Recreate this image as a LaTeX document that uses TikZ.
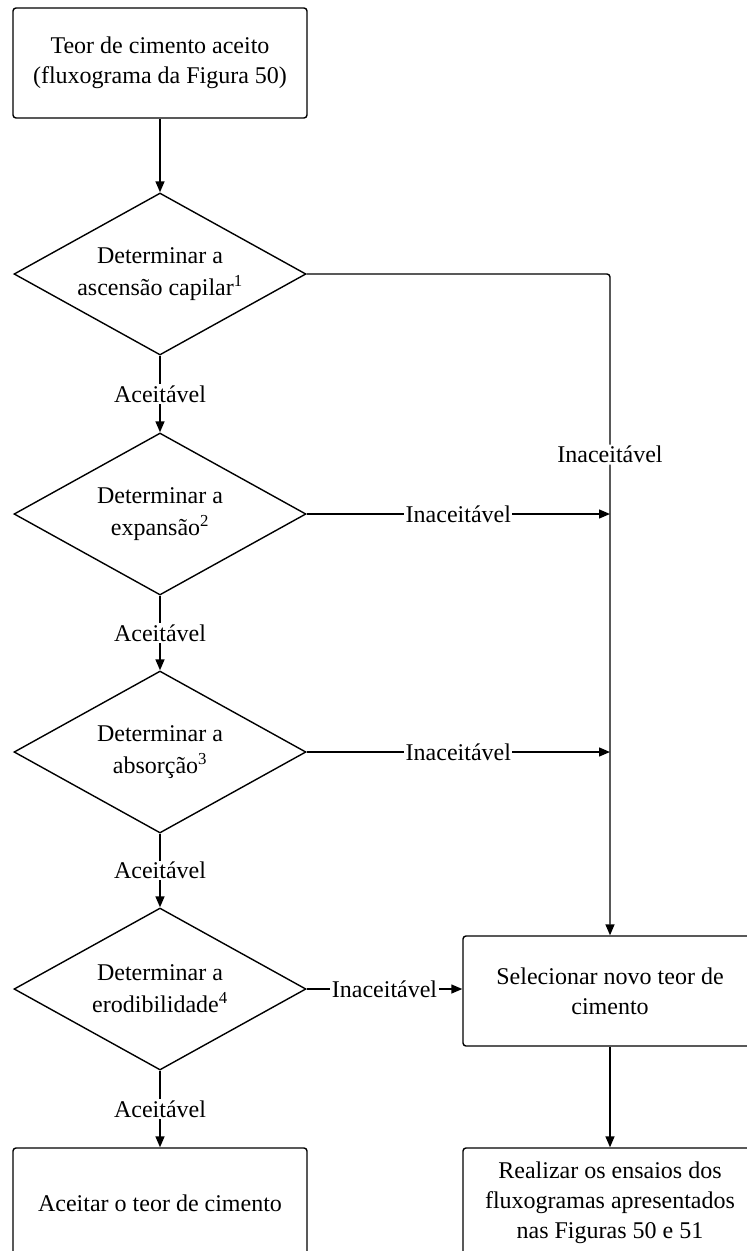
\documentclass[tikz,border=0pt]{standalone}
\usepackage{fontspec}
\setmainfont{Liberation Serif}
\usetikzlibrary{shapes.geometric,arrows.meta}
\begin{document}
\begin{tikzpicture}[x=1pt,y=-1pt,
  line width=1.4pt,
  box/.style={draw,rounded corners=3pt,minimum width=294pt,minimum height=110pt,align=center,inner sep=0pt,font=\fontsize{24}{30}\selectfont},
  dec/.style={draw,shape=diamond,aspect=1.8,minimum width=292pt,minimum height=162pt,inner sep=0pt,align=center,font=\fontsize{24}{32}\selectfont},
  lab/.style={fill=white,inner sep=1.5pt,font=\fontsize{24}{27}\selectfont},
  arr/.style={-{Triangle[length=11pt,width=9pt]}}]
\useasboundingbox (0,0) rectangle (747,1251);
\clip (0,0) rectangle (747,1251);
\node[box] (start) at (160,63) {Teor de cimento aceito\\(fluxograma da Figura 50)};
\node[dec] (d1) at (160,274) {Determinar a\\ascensão capilar\textsuperscript{1}};
\node[dec] (d2) at (160,514) {Determinar a\\expansão\textsuperscript{2}};
\node[dec] (d3) at (160,752) {Determinar a\\absorção\textsuperscript{3}};
\node[dec] (d4) at (160,989) {Determinar a\\erodibilidade\textsuperscript{4}};
\node[box] (acc) at (160,1203) {Aceitar o teor de cimento};
\node[box] (sel) at (610,991) {Selecionar novo teor de\\cimento};
\node[box] (real) at (610,1203) {Realizar os ensaios dos\\fluxogramas apresentados\\nas Figuras 50 e 51};
\coordinate (c1) at (d1.east -| sel.north);
\coordinate (m2) at (d2.east -| sel.north);
\coordinate (m3) at (d3.east -| sel.north);
\coordinate (m4) at (d4.east -| sel.west);
\draw[arr] (start) -- (d1);
\draw[arr] (d1) -- node[lab]{Aceitável} (d2);
\draw[arr] (d2) -- node[lab]{Aceitável} (d3);
\draw[arr] (d3) -- node[lab]{Aceitável} (d4);
\draw[arr] (d4) -- node[lab]{Aceitável} (acc);
\draw[arr,rounded corners=3pt] (d1.east) -- (c1) -- node[lab,pos=0.273]{Inaceitável} (sel.north);
\draw[arr] (d2.east) -- node[lab]{Inaceitável} (m2);
\draw[arr] (d3.east) -- node[lab]{Inaceitável} (m3);
\draw[arr] (d4.east) -- node[lab]{Inaceitável} (m4);
\draw[arr] (sel) -- (real);
\end{tikzpicture}
\end{document}
